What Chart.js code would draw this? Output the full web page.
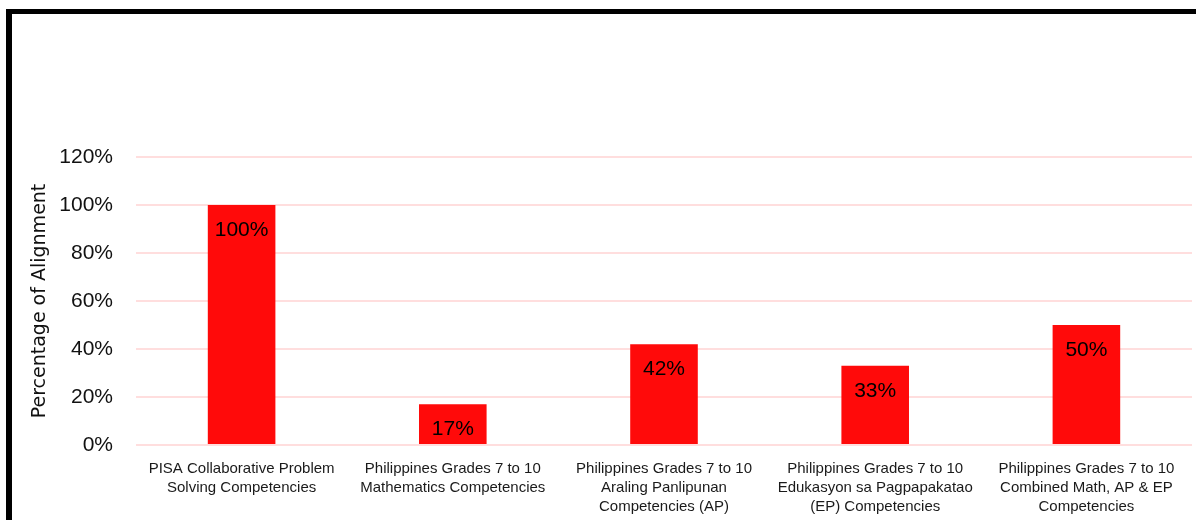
<!DOCTYPE html>
<html>
<head>
<meta charset="utf-8">
<script src="https://cdn.jsdelivr.net/npm/chart.js@4/dist/chart.umd.min.js"></script>
<style>
  html, body { margin: 0; padding: 0; background: #fff; }
  #wrap { position: relative; width: 1196px; height: 520px; overflow: hidden; }
  #frame { position: absolute; left: 6px; top: 9px; width: 1300px; height: 600px;
           border-top: 5px solid #000; border-left: 6px solid #000; box-sizing: border-box; pointer-events: none; }
  canvas { position: absolute; left: 0; top: 0; }
</style>
</head>
<body>
<div id="wrap">
  <canvas id="c" width="1196" height="520"></canvas>
  <div id="frame"></div>
</div>
<script>
const categories = [
  ["PISA Collaborative Problem", "Solving Competencies"],
  ["Philippines Grades 7 to 10", "Mathematics Competencies"],
  ["Philippines Grades 7 to 10", "Araling Panlipunan", "Competencies (AP)"],
  ["Philippines Grades 7 to 10", "Edukasyon sa Pagpapakatao", "(EP) Competencies"],
  ["Philippines Grades 7 to 10", "Combined Math, AP & EP", "Competencies"]
];
const alignmentValues = [100, 17, 42, 33, 50];
const yTickValues = [0, 20, 40, 60, 80, 100, 120];
const yAxisTitle = "Percentage of Alignment";

const FONT = "'Liberation Sans', Arial, sans-serif";

const barLabelPlugin = {
  id: 'barLabels',
  afterDatasetsDraw(chart) {
    const ctx = chart.ctx;
    const meta = chart.getDatasetMeta(0);
    const data = chart.data.datasets[0].data;
    ctx.save();
    ctx.font = "21px " + FONT;
    ctx.fillStyle = "#000";
    ctx.textAlign = "center";
    ctx.textBaseline = "middle";
    meta.data.forEach((bar, i) => {
      ctx.fillText(data[i] + "%", bar.x, bar.y + 25);
    });
    ctx.restore();
  }
};

new Chart(document.getElementById('c'), {
  type: 'bar',
  data: {
    labels: categories,
    datasets: [{
      data: alignmentValues,
      backgroundColor: '#ff0a0a',
      borderWidth: 0,
      barPercentage: 0.8,
      categoryPercentage: 0.4
    }]
  },
  options: {
    responsive: false,
    animation: false,
    events: [],
    layout: { padding: { left: 0, right: 4, top: 157, bottom: 0 } },
    plugins: { legend: { display: false }, tooltip: { enabled: false } },
    scales: {
      x: {
        grid: { display: false },
        border: { display: false },
        ticks: {
          autoSkip: false, maxRotation: 0, minRotation: 0,
          color: '#1a1a1a',
          font: { family: FONT, size: 15, lineHeight: 1.27 },
          padding: 6
        },
        afterFit(s) { s.height = 75; }
      },
      y: {
        min: 0, max: 120,
        afterBuildTicks(s) { s.ticks = yTickValues.map(v => ({ value: v })); },
        grid: { color: '#ffdede', lineWidth: 2, drawTicks: false, tickLength: 0 },
        border: { display: false },
        ticks: {
          color: '#111',
          font: { family: FONT, size: 21 },
          padding: 23,
          callback: v => v + '%'
        },
        title: {
          display: true, text: yAxisTitle, color: '#111',
          font: { family: "'DejaVu Sans', sans-serif", size: 19 },
          padding: { top: 29, bottom: 0 }
        },
        afterFit(s) { s.width = 136; }
      }
    }
  },
  plugins: [barLabelPlugin]
});
</script>
</body>
</html>
